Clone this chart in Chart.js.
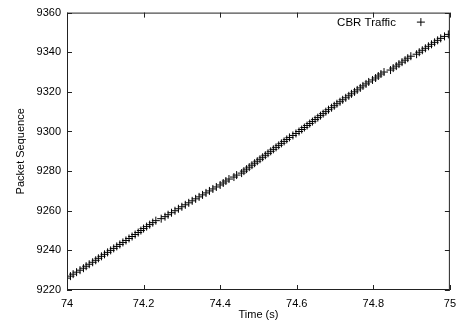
<!DOCTYPE html>
<html>
<head>
<meta charset="utf-8">
<script src="https://cdn.jsdelivr.net/npm/chart.js@4/dist/chart.umd.min.js"></script>
<style>
  html, body { margin: 0; padding: 0; background: #fff; }
  canvas { display: block; }
</style>
</head>
<body>
<canvas id="traffic" width="463" height="328"></canvas>
<script>
// packet sequence numbers (y) and arrival times in seconds (x)
const seqNumbers = [
  9226, 9227, 9228, 9229, 9230, 9231, 9232, 9233, 9234, 9235,
  9236, 9237, 9238, 9239, 9240, 9241, 9242, 9243, 9244, 9245,
  9246, 9247, 9248, 9249, 9250, 9251, 9252, 9253, 9254, 9255,
  9256, 9257, 9258, 9259, 9260, 9261, 9262, 9263, 9264, 9265,
  9266, 9267, 9268, 9269, 9270, 9271, 9272, 9273, 9274, 9275,
  9276, 9277, 9278, 9279, 9280, 9281, 9282, 9283, 9284, 9285,
  9286, 9287, 9288, 9289, 9290, 9291, 9292, 9293, 9294, 9295,
  9296, 9297, 9298, 9299, 9300, 9301, 9302, 9303, 9304, 9305,
  9306, 9307, 9308, 9309, 9310, 9311, 9312, 9313, 9314, 9315,
  9316, 9317, 9318, 9319, 9320, 9321, 9322, 9323, 9324, 9325,
  9326, 9327, 9328, 9329, 9330, 9331, 9332, 9333, 9334, 9335,
  9336, 9337, 9338, 9339, 9340, 9341, 9342, 9343, 9344, 9345,
  9346, 9347, 9348, 9349
];
const arrivalTimes = [
  74.000, 74.009, 74.016, 74.025, 74.034, 74.043, 74.050, 74.058, 74.067, 74.075,
  74.082, 74.090, 74.098, 74.106, 74.114, 74.122, 74.130, 74.138, 74.146, 74.154,
  74.162, 74.170, 74.178, 74.186, 74.193, 74.200, 74.208, 74.216, 74.224, 74.232,
  74.246, 74.256, 74.264, 74.273, 74.282, 74.291, 74.300, 74.309, 74.318, 74.327,
  74.336, 74.345, 74.354, 74.363, 74.372, 74.381, 74.390, 74.400, 74.408, 74.415,
  74.423, 74.436, 74.443, 74.456, 74.462, 74.469, 74.476, 74.483, 74.490, 74.497,
  74.504, 74.511, 74.518, 74.525, 74.532, 74.539, 74.546, 74.553, 74.560, 74.567,
  74.574, 74.581, 74.590, 74.598, 74.606, 74.613, 74.620, 74.627, 74.634, 74.641,
  74.648, 74.655, 74.662, 74.669, 74.676, 74.683, 74.691, 74.698, 74.705, 74.713,
  74.720, 74.728, 74.736, 74.743, 74.751, 74.758, 74.766, 74.773, 74.781, 74.788,
  74.798, 74.806, 74.813, 74.820, 74.828, 74.845, 74.852, 74.860, 74.867, 74.875,
  74.883, 74.890, 74.898, 74.913, 74.920, 74.928, 74.936, 74.944, 74.952, 74.960,
  74.968, 74.976, 74.986, 74.996
];
const xTicks = [74, 74.2, 74.4, 74.6, 74.8, 75];
const yTicks = [9220, 9240, 9260, 9280, 9300, 9320, 9340, 9360];
const seriesName = "CBR Traffic";

const FONT = "'Liberation Sans', Arial, Helvetica, sans-serif";
const INK = "#000";

const points = arrivalTimes.map((t, i) => ({ x: t, y: seqNumbers[i] }));

// gnuplot-like frame with inward ticks on all four sides + key in the corner
const framePlugin = {
  id: "frame",
  afterDatasetsDraw(chart) {
    const { ctx, chartArea: a, scales } = chart;
    ctx.save();
    ctx.strokeStyle = "#222";
    ctx.lineWidth = 1;
    ctx.strokeRect(a.left + 0.5, a.top + 0.5, a.right - a.left - 1, a.bottom - a.top - 1);
    ctx.beginPath();
    const len = 5;
    xTicks.forEach((v) => {
      const px = Math.round(scales.x.getPixelForValue(v)) + 0.5;
      ctx.moveTo(px, a.bottom);
      ctx.lineTo(px, a.bottom - len);
      ctx.moveTo(px, a.top);
      ctx.lineTo(px, a.top + len);
    });
    yTicks.forEach((v) => {
      const py = Math.round(scales.y.getPixelForValue(v)) + 0.5;
      ctx.moveTo(a.left, py);
      ctx.lineTo(a.left + len, py);
      ctx.moveTo(a.right, py);
      ctx.lineTo(a.right - len, py);
    });
    ctx.stroke();

    // key
    ctx.fillStyle = INK;
    ctx.font = "11.5px " + FONT;
    ctx.textAlign = "right";
    ctx.textBaseline = "middle";
    ctx.fillText(seriesName, a.right - 54, a.top + 10);
    const kx = a.right - 29, ky = a.top + 9.5;
    ctx.strokeStyle = INK;
    ctx.beginPath();
    ctx.moveTo(kx - 4, ky);
    ctx.lineTo(kx + 4, ky);
    ctx.moveTo(kx, ky - 4);
    ctx.lineTo(kx, ky + 4);
    ctx.stroke();
    ctx.restore();
  },
};

new Chart(document.getElementById("traffic").getContext("2d"), {
  type: "scatter",
  data: {
    datasets: [
      {
        label: seriesName,
        data: points,
        pointStyle: "cross",
        pointRadius: 4,
        pointBorderWidth: 1,
        borderColor: INK,
        backgroundColor: INK,
      },
    ],
  },
  options: {
    responsive: false,
    animation: false,
    devicePixelRatio: 1,
    layout: { padding: { left: 10, top: 12, right: 6, bottom: 2 } },
    plugins: {
      legend: { display: false },
      tooltip: { enabled: false },
    },
    scales: {
      x: {
        type: "linear",
        min: 74,
        max: 75,
        afterBuildTicks: (s) => { s.ticks = xTicks.map((v) => ({ value: v })); },
        afterFit: (s) => { s.height = 36; },
        grid: { display: false, drawTicks: false },
        border: { display: false },
        ticks: {
          padding: 7,
          color: INK,
          font: { family: FONT, size: 11 },
          maxRotation: 0,
          callback: (v) => String(Number(v.toFixed(1))),
        },
        title: { display: true, text: "Time (s)", color: INK, font: { family: FONT, size: 11 } },
      },
      y: {
        min: 9220,
        max: 9360,
        afterBuildTicks: (s) => { s.ticks = yTicks.map((v) => ({ value: v })); },
        afterFit: (s) => { s.width = 57; },
        grid: { display: false, drawTicks: false },
        border: { display: false },
        ticks: { padding: 6, color: INK, font: { family: FONT, size: 11 }, callback: (v) => String(v) },
        title: { display: true, text: "Packet Sequence", color: INK, font: { family: FONT, size: 11 } },
      },
    },
  },
  plugins: [framePlugin],
});
</script>
</body>
</html>
